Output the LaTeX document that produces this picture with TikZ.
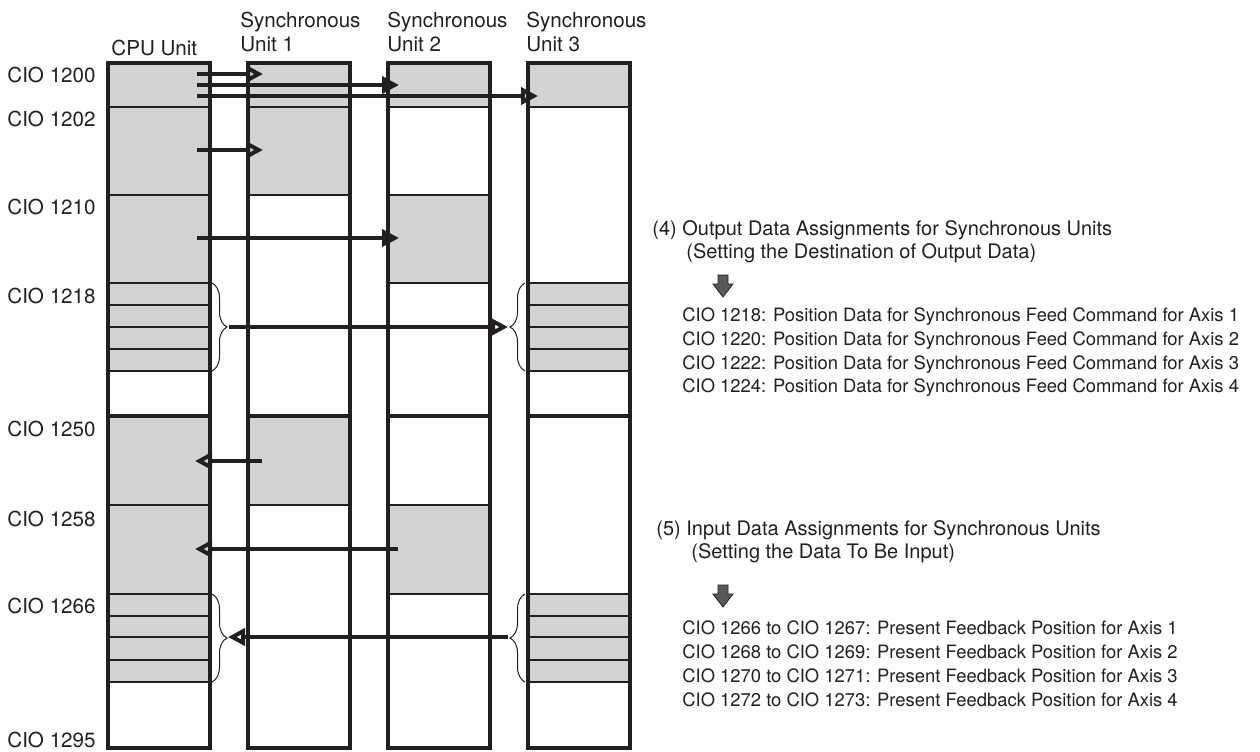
\documentclass[tikz,border=0pt]{standalone}
\usepackage{fontspec}
\setmainfont{TeX Gyre Heros}
\usetikzlibrary{arrows.meta,decorations.pathreplacing}
\definecolor{memgray}{HTML}{D1D3D4}
\definecolor{ink}{HTML}{231F20}
\definecolor{pointgray}{HTML}{58595B}

\begin{document}
\begin{tikzpicture}[x=0.5pt,y=-0.5pt,
    frame/.style={draw=ink,line width=1.6pt},
    rowline/.style={draw=ink,line width=0.65pt},
    flow/.style={draw=ink,line width=1.6pt,-{Triangle[open,length=8.5pt,width=8.5pt,line width=2pt]}},
    curly/.style={draw=ink,line width=0.5pt,decorate,decoration={brace,amplitude=7.5pt}},
    addr/.style={anchor=base west,inner sep=0pt,text=ink,font=\fontsize{10.3}{12}\selectfont},
    unit/.style={anchor=base west,inner sep=0pt,align=left,text=ink,font=\fontsize{10.3}{12.25}\selectfont},
    head/.style={anchor=base west,inner sep=0pt,align=left,text=ink,font=\fontsize{10}{11.5}\selectfont},
    item/.style={anchor=base west,inner sep=0pt,align=left,text=ink,font=\fontsize{9.2}{11.85}\selectfont}]
  \useasboundingbox (0,0) rectangle (1260,751);

  % shaded areas
  \fill[memgray] (108,63) rectangle (210,371) (108,416) rectangle (210,682);
  \fill[memgray] (248,63) rectangle (350,195) (248,416) rectangle (350,505);
  \fill[memgray] (388,63) rectangle (490,107) (388,195) rectangle (490,283) (388,505) rectangle (490,594);
  \fill[memgray] (528,63) rectangle (630,107) (528,283) rectangle (630,371) (528,594) rectangle (630,682);

  % word boundaries
  \foreach \y in {107,195,283,305,327,349,371,505,594,616,637,660,682}
    \draw[rowline] (108,\y) -- (210,\y);
  \foreach \y in {107,195,505}
    \draw[rowline] (248,\y) -- (350,\y);
  \foreach \y in {107,195,283,505,594}
    \draw[rowline] (388,\y) -- (490,\y);
  \foreach \y in {107,283,305,327,349,371,594,616,637,660,682}
    \draw[rowline] (528,\y) -- (630,\y);

  % unit frames and output/input border
  \foreach \x in {108,248,388,528} {
    \draw[frame] (\x,416) -- ++(102,0);
    \draw[frame] (\x,63) rectangle ++(102,685);
  }

  % column titles (base = last line)
  \node[unit] (cpu) at (111,55.5) {CPU Unit};
  \node[unit] (sync1) at (240,51.5) {Synchronous\\Unit 1};
  \node[unit] (sync2) at (387,51.5) {Synchronous\\Unit 2};
  \node[unit] (sync3) at (526,51.5) {Synchronous\\Unit 3};

  % addresses
  \node[addr] (w1200) at (7,82) {CIO 1200};
  \node[addr] (w1202) at (7,126) {CIO 1202};
  \node[addr] (w1210) at (7,214) {CIO 1210};
  \node[addr] (w1218) at (7,303) {CIO 1218};
  \node[addr] (w1250) at (7,436) {CIO 1250};
  \node[addr] (w1258) at (7,526) {CIO 1258};
  \node[addr] (w1266) at (7,613) {CIO 1266};
  \node[addr] (w1295) at (7,747) {CIO 1295};

  % braces
  \draw[curly] (212,283) -- (212,371);
  \draw[curly] (525,371) -- (525,283);
  \draw[curly] (212,594) -- (212,682);
  \draw[curly] (525,682) -- (525,594);

  % transfer end points
  \coordinate (cA) at (197,74);  \coordinate (sA) at (263,74);
  \coordinate (cB) at (197,85);  \coordinate (sB) at (399,85);
  \coordinate (cC) at (197,96);  \coordinate (sC) at (538,96);
  \coordinate (cD) at (197,150); \coordinate (sD) at (263,150);
  \coordinate (cE) at (197,238); \coordinate (sE) at (399,238);
  \coordinate (cF) at (229,327); \coordinate (sF) at (508,327);
  \coordinate (cG) at (195,461); \coordinate (sG) at (262,461);
  \coordinate (cH) at (195,549); \coordinate (sH) at (398,549);
  \coordinate (cI) at (228,637); \coordinate (sI) at (508,637);

  % output data (CPU -> units)
  \draw[flow] (cA) -- (sA);
  \draw[flow] (cB) -- (sB);
  \draw[flow] (cC) -- (sC);
  \draw[flow] (cD) -- (sD);
  \draw[flow] (cE) -- (sE);
  \draw[flow] (cF) -- (sF);
  % input data (units -> CPU)
  \draw[flow] (sG) -- (cG);
  \draw[flow] (sH) -- (cH);
  \draw[flow] (sI) -- (cI);

  % notes (base = last line)
  \node[head] (out4) at (652,258) {(4) Output Data Assignments for Synchronous Units\\\hspace*{17pt}(Setting the Destination of Output Data)};
  \draw[ink,fill=pointgray,line width=0.4pt] (718,275) -- (728,275) -- (728,284) -- (733,284) -- (723,297) -- (713,284) -- (718,284) -- cycle;
  \node[item] (out4list) at (682,392.7) {CIO 1218: Position Data for Synchronous Feed Command for Axis 1\\CIO 1220: Position Data for Synchronous Feed Command for Axis 2\\CIO 1222: Position Data for Synchronous Feed Command for Axis 3\\CIO 1224: Position Data for Synchronous Feed Command for Axis 4};

  \node[head] (in5) at (656,558) {(5) Input Data Assignments for Synchronous Units\\\hspace*{17.5pt}(Setting the Data To Be Input)};
  \draw[ink,fill=pointgray,line width=0.4pt] (718,585) -- (728,585) -- (728,594) -- (733,594) -- (723,607) -- (713,594) -- (718,594) -- cycle;
  \node[item] (in5list) at (682,706) {CIO 1266 to CIO 1267: Present Feedback Position for Axis 1\\CIO 1268 to CIO 1269: Present Feedback Position for Axis 2\\CIO 1270 to CIO 1271: Present Feedback Position for Axis 3\\CIO 1272 to CIO 1273: Present Feedback Position for Axis 4};
\end{tikzpicture}
\end{document}
